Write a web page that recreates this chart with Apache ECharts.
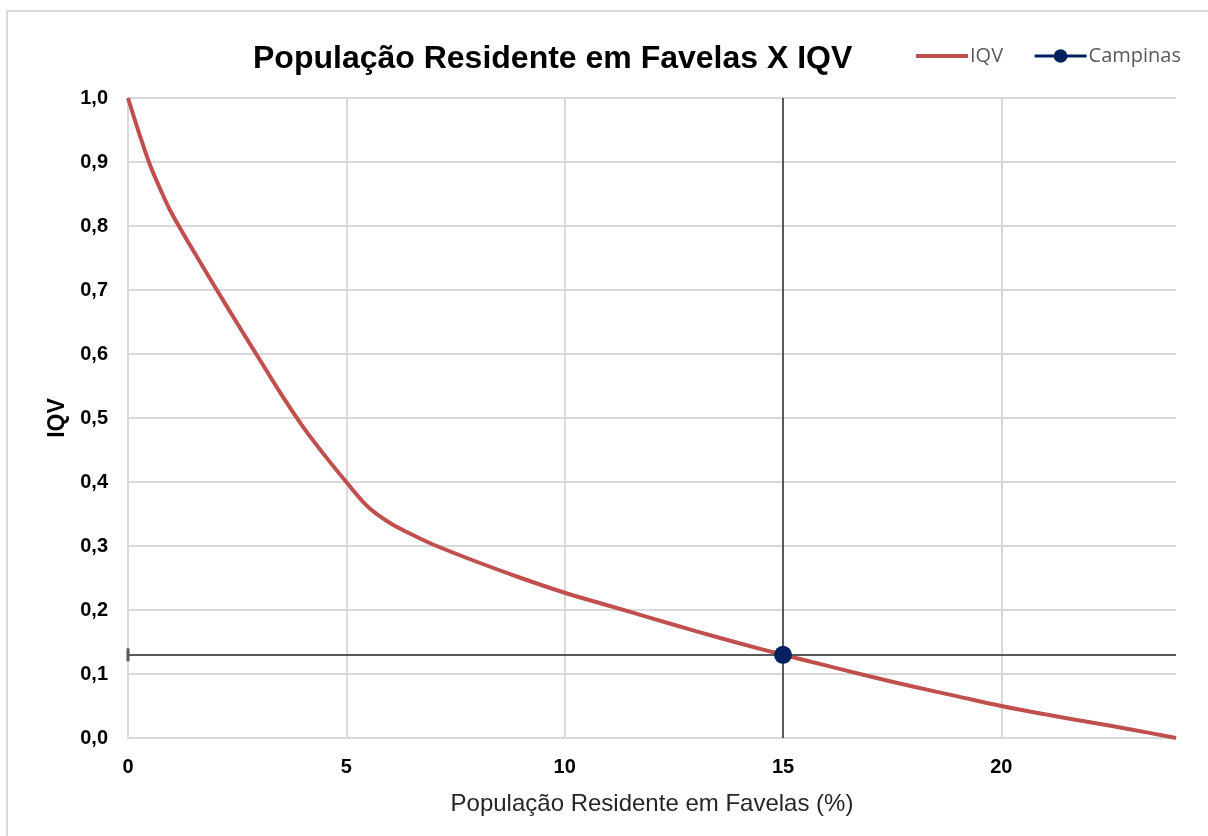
<!DOCTYPE html>
<html>
<head>
<meta charset="utf-8">
<script src="https://cdn.jsdelivr.net/npm/echarts@6/dist/echarts.min.js"></script>
<style>
  html, body { margin: 0; padding: 0; background: #ffffff; }
  #chart { width: 1208px; height: 836px; }
</style>
</head>
<body>
<div id="chart"></div>
<script>
// IQV curve as a function of population living in favelas (%)
const favelaPct = [0, 0.25, 0.5, 0.75, 1, 1.5, 2, 2.5, 3, 3.5, 4, 4.5, 5, 5.5, 6, 6.5, 7,
                   8, 9, 10, 11, 12, 13, 14, 15, 16, 17, 18, 19, 20, 21, 22, 23, 24];
const iqvValues = [1.0, 0.946, 0.896, 0.856, 0.82, 0.761, 0.704, 0.648, 0.593, 0.538, 0.487, 0.442, 0.40, 0.361, 0.336, 0.318, 0.302,
                   0.275, 0.25, 0.227, 0.207, 0.187, 0.167, 0.148, 0.13, 0.113, 0.096, 0.08, 0.065, 0.05, 0.037, 0.025, 0.013, 0.0];

// Campinas position on the curve
const campinasPct = [15];
const campinasIqv = [0.13];

// Axis ticks
const xTicks = [0, 5, 10, 15, 20];

const iqvData = favelaPct.map((x, i) => [x, iqvValues[i]]);
const campinasData = campinasPct.map((x, i) => [x, campinasIqv[i]]);

const chart = echarts.init(document.getElementById('chart'));
const axisFont = 'Liberation Sans, Arial, sans-serif';

chart.setOption({
  backgroundColor: '#ffffff',
  animation: false,
  graphic: [{
    type: 'rect',
    shape: { x: 7, y: 11, width: 1240, height: 860 },
    style: { fill: 'none', stroke: '#d9d9d9', lineWidth: 2 },
    silent: true
  }],
  title: {
    text: 'População Residente em Favelas X IQV',
    left: 248,
    top: 38,
    textStyle: { fontFamily: axisFont, fontWeight: 'bold', fontSize: 32, color: '#000000' }
  },
  legend: {
    left: 909,
    top: 41,
    itemWidth: 52,
    itemHeight: 17,
    itemGap: 30,
    textStyle: { fontFamily: 'Open Sans, sans-serif', fontSize: 20, color: '#595959', padding: [0, 0, 0, -3] },
    data: [
      { name: 'IQV', itemStyle: { color: 'rgba(0,0,0,0)', borderWidth: 0 }, lineStyle: { width: 4, color: '#c0504d' } },
      { name: 'Campinas', lineStyle: { width: 3, color: '#002060' } }
    ]
  },
  grid: { left: 128, right: 32, top: 98, bottom: 98, containLabel: false },
  xAxis: {
    type: 'value',
    min: 0,
    max: 24,
    interval: 5,
    name: 'População Residente em Favelas (%)',
    nameLocation: 'middle',
    nameGap: 54,
    nameTextStyle: { fontFamily: axisFont, fontSize: 24, color: '#262626' },
    axisLine: { show: true, lineStyle: { color: '#d9d9d9', width: 2 } },
    axisTick: { show: false, customValues: xTicks },
    axisLabel: {
      customValues: xTicks,
      margin: 19,
      fontFamily: axisFont, fontWeight: 'bold', fontSize: 20, color: '#000000'
    },
    splitLine: { show: true, lineStyle: { color: '#d9d9d9', width: 2 } }
  },
  yAxis: {
    type: 'value',
    min: 0,
    max: 1,
    interval: 0.1,
    name: 'IQV',
    nameLocation: 'middle',
    nameGap: 58,
    nameTextStyle: { fontFamily: axisFont, fontWeight: 'bold', fontSize: 23, color: '#000000' },
    axisLine: { show: true, lineStyle: { color: '#d9d9d9', width: 2 } },
    axisTick: { show: false },
    axisLabel: {
      margin: 20,
      fontFamily: axisFont, fontWeight: 'bold', fontSize: 20, color: '#000000',
      formatter: v => v.toFixed(1).replace('.', ',')
    },
    splitLine: { show: true, lineStyle: { color: '#d9d9d9', width: 2 } }
  },
  series: [
    {
      name: 'IQV',
      type: 'line',
      data: iqvData,
      smooth: 0.35,
      symbol: 'none',
      lineStyle: { color: '#c0504d', width: 4 },
      itemStyle: { color: '#c0504d' },
      z: 3
    },
    {
      name: 'Campinas',
      type: 'line',
      data: campinasData,
      symbol: 'circle',
      symbolSize: 18,
      lineStyle: { color: '#002060', width: 3 },
      itemStyle: { color: '#002060' },
      z: 5,
      markLine: {
        silent: true,
        symbol: ['none', 'none'],
        label: { show: false },
        lineStyle: { color: '#595959', width: 2, type: 'solid' },
        data: [{ xAxis: campinasPct[0] }, { yAxis: campinasIqv[0] }]
      },
      markPoint: {
        silent: true,
        symbol: 'rect',
        symbolSize: [3, 13],
        itemStyle: { color: '#595959' },
        label: { show: false },
        data: [{ coord: [0, campinasIqv[0]] }]
      }
    }
  ]
});
</script>
</body>
</html>
